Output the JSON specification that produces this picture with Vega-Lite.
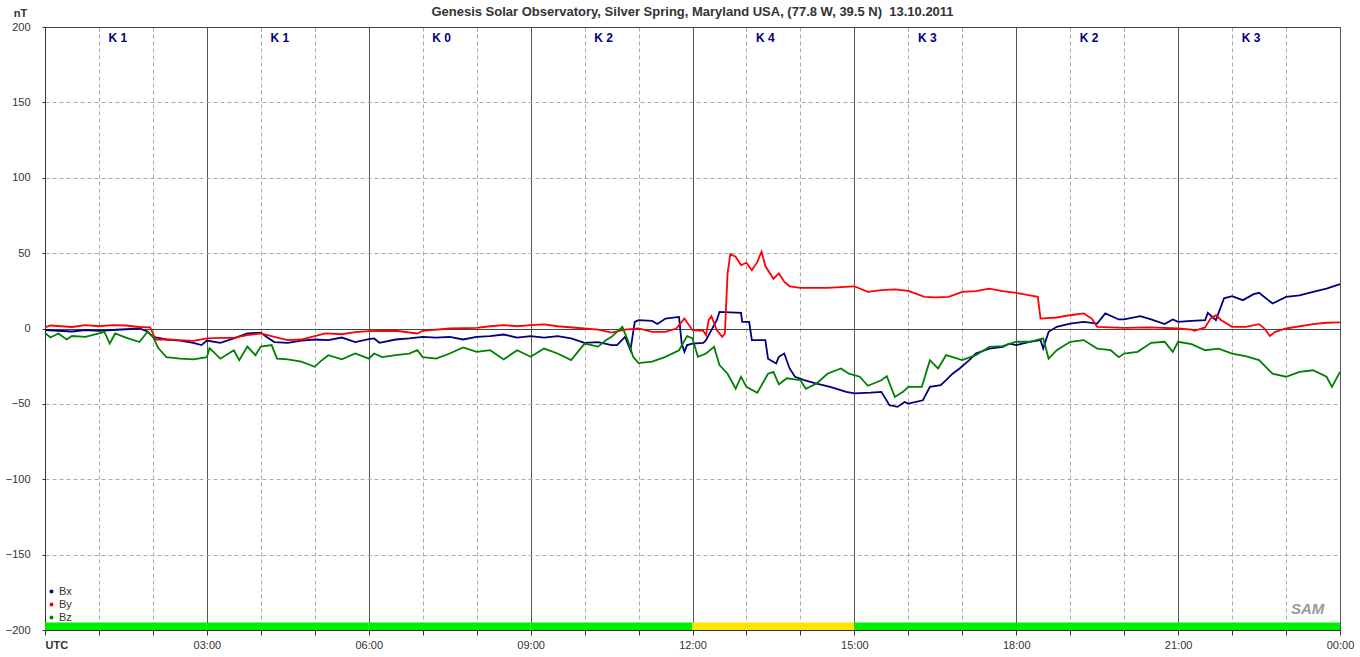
{
 "$schema": "https://vega.github.io/schema/vega-lite/v6.json",
 "width": 1295, "height": 603,
 "autosize": {"type": "none"},
 "padding": {"left": 45, "top": 27, "right": 20, "bottom": 27},
 "background": "white",
 "title": {"text": "Genesis Solar Observatory, Silver Spring, Maryland USA, (77.8 W, 39.5 N)\u00a0 13.10.2011", "fontSize": 13, "font": "Liberation Sans", "fontWeight": "bold", "color": "#333333", "anchor": "middle", "offset": 8, "dy": 20},
 "config": {"view": {"stroke": "#555555", "strokeWidth": 1}, "font": "Liberation Sans"},
 "datasets": {
  "bx": [
   {"t":0,"v":-1},{"t":0.25,"v":-1.5},{"t":0.5,"v":-2},{"t":0.75,"v":-1},{"t":1,"v":-1.5},{"t":1.25,"v":-1},{"t":1.5,"v":-0.5},{"t":1.75,"v":0},{"t":1.9,"v":-2},{"t":2,"v":-5.5},{"t":2.25,"v":-7.3},{"t":2.5,"v":-8},{"t":2.75,"v":-9.5},{"t":2.9,"v":-11},{"t":3,"v":-8},{"t":3.25,"v":-9.5},{"t":3.5,"v":-6.5},{"t":3.75,"v":-3.3},{"t":4,"v":-2.7},{"t":4.1,"v":-5.5},{"t":4.25,"v":-9},{"t":4.5,"v":-9.5},{"t":4.75,"v":-8},{"t":5,"v":-7.3},{"t":5.25,"v":-7.7},{"t":5.5,"v":-6},{"t":5.75,"v":-9},{"t":6,"v":-7},{"t":6.1,"v":-6.6},{"t":6.2,"v":-9.5},{"t":6.5,"v":-7.3},{"t":6.75,"v":-6.6},{"t":7,"v":-5.5},{"t":7.25,"v":-6},{"t":7.5,"v":-5.5},{"t":7.75,"v":-7.3},{"t":8,"v":-5.5},{"t":8.25,"v":-5},{"t":8.5,"v":-4},{"t":8.75,"v":-6},{"t":9,"v":-5},{"t":9.25,"v":-6},{"t":9.5,"v":-5},{"t":9.75,"v":-6.6},{"t":10,"v":-9.5},{"t":10.25,"v":-9},{"t":10.5,"v":-11},{"t":10.6,"v":-11},{"t":10.75,"v":-5.5},{"t":10.85,"v":-14.4},{"t":10.93,"v":4.4},{"t":11,"v":5.5},{"t":11.25,"v":5},{"t":11.35,"v":3},{"t":11.5,"v":6.6},{"t":11.75,"v":7.7},{"t":11.8,"v":-10},{"t":11.85,"v":-15.5},{"t":11.9,"v":-11},{"t":12,"v":-10},{"t":12.2,"v":-9.5},{"t":12.25,"v":-7.7},{"t":12.35,"v":-1.1},{"t":12.45,"v":5.5},{"t":12.5,"v":11},{"t":12.9,"v":10.4},{"t":12.92,"v":4.4},{"t":13.05,"v":4.4},{"t":13.1,"v":-7.7},{"t":13.35,"v":-7.7},{"t":13.4,"v":-20},{"t":13.55,"v":-23.2},{"t":13.6,"v":-18.8},{"t":13.7,"v":-16.6},{"t":13.8,"v":-26.5},{"t":13.9,"v":-32},{"t":14.07,"v":-34.3},{"t":14.3,"v":-36.5},{"t":14.55,"v":-38.7},{"t":14.85,"v":-42},{"t":15,"v":-43},{"t":15.3,"v":-42.5},{"t":15.5,"v":-42},{"t":15.65,"v":-50.9},{"t":15.8,"v":-52},{"t":15.93,"v":-48.7},{"t":16,"v":-49.8},{"t":16.27,"v":-47.6},{"t":16.4,"v":-38.7},{"t":16.6,"v":-37.6},{"t":16.7,"v":-34.3},{"t":16.82,"v":-30},{"t":16.95,"v":-26.5},{"t":17.13,"v":-21},{"t":17.25,"v":-16.6},{"t":17.5,"v":-13.3},{"t":17.75,"v":-12.2},{"t":17.87,"v":-10},{"t":18,"v":-11},{"t":18.25,"v":-8.8},{"t":18.45,"v":-7.7},{"t":18.5,"v":-13.3},{"t":18.6,"v":-2.2},{"t":18.75,"v":1.1},{"t":19,"v":3.3},{"t":19.25,"v":4.4},{"t":19.5,"v":3.3},{"t":19.65,"v":10},{"t":19.9,"v":6},{"t":20,"v":6},{"t":20.3,"v":8.2},{"t":20.5,"v":6},{"t":20.75,"v":2.9},{"t":20.9,"v":6},{"t":21,"v":4.4},{"t":21.25,"v":5},{"t":21.5,"v":5.5},{"t":21.55,"v":10.4},{"t":21.7,"v":5.5},{"t":21.85,"v":20},{"t":22,"v":21.5},{"t":22.2,"v":18.8},{"t":22.4,"v":22.8},{"t":22.5,"v":23.7},{"t":22.75,"v":16.6},{"t":23,"v":21},{"t":23.25,"v":22},{"t":23.5,"v":24.3},{"t":23.75,"v":26.5},{"t":24,"v":29.4}
  ],
  "by": [
   {"t":0,"v":0.7},{"t":0.1,"v":2},{"t":0.5,"v":1},{"t":0.75,"v":2.2},{"t":1,"v":1.5},{"t":1.25,"v":2.2},{"t":1.5,"v":2},{"t":1.75,"v":1},{"t":1.95,"v":0.7},{"t":2.05,"v":-7.3},{"t":2.25,"v":-7.3},{"t":2.5,"v":-7.7},{"t":2.75,"v":-8.2},{"t":3,"v":-6.6},{"t":3.25,"v":-6.2},{"t":3.5,"v":-6.2},{"t":3.75,"v":-4.4},{"t":4,"v":-3.3},{"t":4.25,"v":-5.5},{"t":4.5,"v":-7.7},{"t":4.75,"v":-7.3},{"t":5,"v":-5},{"t":5.2,"v":-3.3},{"t":5.5,"v":-3.8},{"t":5.75,"v":-2.4},{"t":6,"v":-1.8},{"t":6.5,"v":-1.5},{"t":6.9,"v":-3.3},{"t":7,"v":-1.5},{"t":7.5,"v":0},{"t":8,"v":0.4},{"t":8.25,"v":1.5},{"t":8.5,"v":2.2},{"t":8.75,"v":1.5},{"t":9,"v":2.2},{"t":9.25,"v":2.7},{"t":9.5,"v":1.5},{"t":10,"v":0},{"t":10.25,"v":-0.7},{"t":10.5,"v":-2.7},{"t":10.75,"v":-0.7},{"t":11,"v":0},{"t":11.25,"v":-2.2},{"t":11.5,"v":-2.2},{"t":11.7,"v":0},{"t":11.85,"v":6.6},{"t":12,"v":-1.1},{"t":12.2,"v":-1.5},{"t":12.25,"v":-4.4},{"t":12.3,"v":5.5},{"t":12.35,"v":8.2},{"t":12.45,"v":-1},{"t":12.55,"v":-5.5},{"t":12.6,"v":-3.3},{"t":12.65,"v":36.5},{"t":12.7,"v":49.3},{"t":12.8,"v":47.6},{"t":12.9,"v":42},{"t":13,"v":43.6},{"t":13.1,"v":38.7},{"t":13.2,"v":44},{"t":13.28,"v":51},{"t":13.35,"v":41.4},{"t":13.5,"v":33},{"t":13.6,"v":36.5},{"t":13.7,"v":31},{"t":13.8,"v":28},{"t":14,"v":27},{"t":14.5,"v":27},{"t":15,"v":28},{"t":15.25,"v":24.3},{"t":15.5,"v":25.4},{"t":15.75,"v":26},{"t":16,"v":25},{"t":16.3,"v":21},{"t":16.5,"v":20.6},{"t":16.75,"v":21},{"t":17,"v":24.3},{"t":17.25,"v":24.8},{"t":17.5,"v":26.5},{"t":17.75,"v":24.8},{"t":18,"v":23.7},{"t":18.25,"v":22},{"t":18.4,"v":21},{"t":18.45,"v":6.6},{"t":18.75,"v":7.3},{"t":19,"v":8.8},{"t":19.25,"v":10},{"t":19.4,"v":6.6},{"t":19.5,"v":1.1},{"t":20,"v":0.4},{"t":20.5,"v":0.7},{"t":21,"v":0},{"t":21.25,"v":-0.7},{"t":21.3,"v":-1.5},{"t":21.5,"v":0.7},{"t":21.6,"v":6.6},{"t":21.7,"v":8.8},{"t":21.8,"v":5.5},{"t":22,"v":1.1},{"t":22.25,"v":1.1},{"t":22.5,"v":2.9},{"t":22.6,"v":0},{"t":22.7,"v":-5},{"t":22.8,"v":-2.2},{"t":23,"v":0},{"t":23.5,"v":2.9},{"t":23.75,"v":3.8},{"t":24,"v":4}
  ],
  "bz": [
   {"t":0,"v":-3},{"t":0.1,"v":-6},{"t":0.25,"v":-3.3},{"t":0.4,"v":-7.3},{"t":0.5,"v":-5},{"t":0.75,"v":-5.5},{"t":1,"v":-3.3},{"t":1.1,"v":-2.2},{"t":1.2,"v":-10},{"t":1.3,"v":-3.3},{"t":1.5,"v":-6},{"t":1.75,"v":-9},{"t":1.9,"v":-2.2},{"t":2,"v":-5.5},{"t":2.1,"v":-13},{"t":2.25,"v":-19},{"t":2.5,"v":-20},{"t":2.75,"v":-20.5},{"t":3,"v":-19},{"t":3.05,"v":-13},{"t":3.25,"v":-20},{"t":3.5,"v":-14.4},{"t":3.6,"v":-21},{"t":3.75,"v":-12},{"t":3.9,"v":-17.7},{"t":4,"v":-12},{"t":4.2,"v":-11},{"t":4.3,"v":-20},{"t":4.5,"v":-20.5},{"t":4.75,"v":-22},{"t":5,"v":-25.4},{"t":5.1,"v":-22},{"t":5.25,"v":-17.7},{"t":5.5,"v":-20.5},{"t":5.75,"v":-16.6},{"t":6,"v":-20},{"t":6.1,"v":-16.6},{"t":6.25,"v":-19},{"t":6.5,"v":-17.7},{"t":6.75,"v":-16.6},{"t":6.9,"v":-14.4},{"t":7,"v":-19},{"t":7.25,"v":-20},{"t":7.5,"v":-16.6},{"t":7.75,"v":-12.6},{"t":8,"v":-15.5},{"t":8.25,"v":-14.4},{"t":8.5,"v":-20.5},{"t":8.75,"v":-14.4},{"t":9,"v":-18.8},{"t":9.25,"v":-13.3},{"t":9.5,"v":-16.6},{"t":9.75,"v":-21},{"t":10,"v":-10},{"t":10.25,"v":-12},{"t":10.4,"v":-7.7},{"t":10.5,"v":-5.5},{"t":10.6,"v":-2.2},{"t":10.7,"v":1.1},{"t":10.8,"v":-7.7},{"t":10.9,"v":-18.8},{"t":11,"v":-23},{"t":11.25,"v":-22},{"t":11.5,"v":-18.8},{"t":11.75,"v":-14.4},{"t":11.9,"v":-5},{"t":12,"v":-6.6},{"t":12.1,"v":-18.8},{"t":12.25,"v":-16.6},{"t":12.4,"v":-12.2},{"t":12.5,"v":-24.3},{"t":12.65,"v":-30},{"t":12.8,"v":-40},{"t":12.9,"v":-32},{"t":13,"v":-38.7},{"t":13.2,"v":-42.7},{"t":13.4,"v":-30},{"t":13.5,"v":-28.8},{"t":13.6,"v":-37},{"t":13.75,"v":-33},{"t":14,"v":-34.3},{"t":14.1,"v":-40},{"t":14.3,"v":-36.5},{"t":14.5,"v":-30},{"t":14.75,"v":-26.5},{"t":14.9,"v":-30},{"t":15.1,"v":-32},{"t":15.25,"v":-38},{"t":15.5,"v":-34.3},{"t":15.6,"v":-31.6},{"t":15.75,"v":-45.4},{"t":15.9,"v":-42},{"t":16,"v":-38.7},{"t":16.25,"v":-38.7},{"t":16.4,"v":-21},{"t":16.55,"v":-26.5},{"t":16.7,"v":-17.7},{"t":17,"v":-21},{"t":17.25,"v":-17.7},{"t":17.5,"v":-12.2},{"t":17.75,"v":-11.7},{"t":18,"v":-8.8},{"t":18.25,"v":-8.8},{"t":18.5,"v":-6.6},{"t":18.6,"v":-20},{"t":18.75,"v":-14.4},{"t":19,"v":-8.8},{"t":19.25,"v":-7.7},{"t":19.5,"v":-13.3},{"t":19.75,"v":-14.4},{"t":19.9,"v":-19},{"t":20,"v":-16.6},{"t":20.25,"v":-15.5},{"t":20.5,"v":-9.5},{"t":20.75,"v":-8.8},{"t":20.9,"v":-15.5},{"t":21,"v":-8.8},{"t":21.25,"v":-10.4},{"t":21.5,"v":-14.4},{"t":21.75,"v":-13.3},{"t":22,"v":-16.6},{"t":22.25,"v":-18.4},{"t":22.5,"v":-21},{"t":22.75,"v":-30},{"t":23,"v":-32},{"t":23.25,"v":-28.8},{"t":23.5,"v":-27.7},{"t":23.75,"v":-32},{"t":23.85,"v":-38.7},{"t":24,"v":-28.8}
  ],
  "kp": [
   {"s":0,"e":3,"mid":1.5,"k":"K 1","level":"quiet"},
   {"s":3,"e":6,"mid":4.5,"k":"K 1","level":"quiet"},
   {"s":6,"e":9,"mid":7.5,"k":"K 0","level":"quiet"},
   {"s":9,"e":12,"mid":10.5,"k":"K 2","level":"quiet"},
   {"s":12,"e":15,"mid":13.5,"k":"K 4","level":"active"},
   {"s":15,"e":18,"mid":16.5,"k":"K 3","level":"quiet"},
   {"s":18,"e":21,"mid":19.5,"k":"K 2","level":"quiet"},
   {"s":21,"e":24,"mid":22.5,"k":"K 3","level":"quiet"}
  ]
 },
 "layer": [
  {
   "data": {"name": "kp"},
   "mark": {"type": "rect"},
   "encoding": {
    "x": {"field": "s", "type": "quantitative", "title": null},
    "x2": {"field": "e"},
    "y": {"datum": -200},
    "y2": {"datum": -195},
    "fill": {"field": "level", "type": "nominal", "scale": {"domain": ["quiet", "active"], "range": ["#00EE00", "#FFE400"]}, "legend": null}
   }
  },
  {
   "data": {"name": "bx"},
   "mark": {"type": "line", "strokeWidth": 1.8, "interpolate": "linear"},
   "encoding": {
    "x": {"field": "t", "type": "quantitative", "title": null,
     "scale": {"domain": [0, 24], "nice": false, "zero": false},
     "axis": {"values": [0,1,2,3,4,5,6,7,8,9,10,11,12,13,14,15,16,17,18,19,20,21,22,23,24],
      "labelExpr": "datum.value == 0 ? 'UTC' : (datum.value % 3 != 0 ? '' : (datum.value == 24 ? '00:00' : (datum.value < 10 ? '0' : '') + datum.value + ':00'))",
      "labelFontSize": 11, "labelColor": "#333333", "labelFlush": false, "labelOverlap": false, "labelPadding": 4,
      "labelAlign": {"condition": {"test": "datum.value == 0", "value": "left"}, "value": "center"},
      "labelFontWeight": {"condition": {"test": "datum.value == 0", "value": "bold"}, "value": "normal"},
      "tickColor": "#333333", "tickSize": 5, "domainColor": "#333333",
      "grid": true,
      "gridColor": {"condition": {"test": "datum.value % 3 == 0", "value": "#555555"}, "value": "#aaaaaa"},
      "gridDash": {"condition": {"test": "datum.value % 3 == 0", "value": []}, "value": [4, 3]}}},
    "y": {"field": "v", "type": "quantitative", "title": "nT",
     "scale": {"domain": [-200, 200], "nice": false},
     "axis": {"values": [-200,-150,-100,-50,0,50,100,150,200],
      "titleAngle": 0, "titleX": -25, "titleY": -14, "titleAlign": "center", "titleBaseline": "middle", "titleFontSize": 11, "titleFontWeight": "bold", "titleColor": "#333333",
      "labelFontSize": 11, "labelColor": "#333333", "labelPadding": 12, "tickSize": 3, "tickColor": "#333333", "domainColor": "#333333", "labelFlush": false,
      "grid": true,
      "gridColor": {"condition": {"test": "datum.value == 0 || datum.value == 200", "value": "#444444"}, "value": "#aaaaaa"},
      "gridDash": {"condition": {"test": "datum.value == 0 || datum.value == 200", "value": []}, "value": [4, 3]}}},
    "color": {"datum": "Bx", "type": "nominal", "scale": {"domain": ["Bx", "By", "Bz"], "range": ["#000080", "#FF0000", "#008000"]},
     "legend": {"orient": "none", "legendX": 1, "legendY": 559, "title": null, "symbolType": "circle", "symbolSize": 4, "symbolStrokeWidth": 2, "labelFontSize": 11, "labelColor": "#333333", "labelOffset": 2, "rowPadding": 1}}
   }
  },
  {
   "data": {"name": "by"},
   "mark": {"type": "line", "strokeWidth": 1.8},
   "encoding": {
    "x": {"field": "t", "type": "quantitative", "title": null},
    "y": {"field": "v", "type": "quantitative", "title": "nT"},
    "color": {"datum": "By", "type": "nominal"}
   }
  },
  {
   "data": {"name": "bz"},
   "mark": {"type": "line", "strokeWidth": 1.8},
   "encoding": {
    "x": {"field": "t", "type": "quantitative", "title": null},
    "y": {"field": "v", "type": "quantitative", "title": "nT"},
    "color": {"datum": "Bz", "type": "nominal"}
   }
  },
  {
   "data": {"name": "kp"},
   "mark": {"type": "text", "fontSize": 12, "fontWeight": "bold", "color": "#00007F", "baseline": "middle", "align": "center", "dx": -8},
   "encoding": {
    "x": {"field": "mid", "type": "quantitative", "title": null},
    "y": {"datum": 193},
    "text": {"field": "k"}
   }
  },
  {
   "data": {"values": [{"label": "SAM"}]},
   "mark": {"type": "text", "fontSize": 15, "fontStyle": "italic", "fontWeight": "bold", "color": "#999999", "align": "center", "baseline": "middle"},
   "encoding": {
    "x": {"datum": 23.4},
    "y": {"datum": -186},
    "text": {"field": "label"}
   }
  }
 ]
}
